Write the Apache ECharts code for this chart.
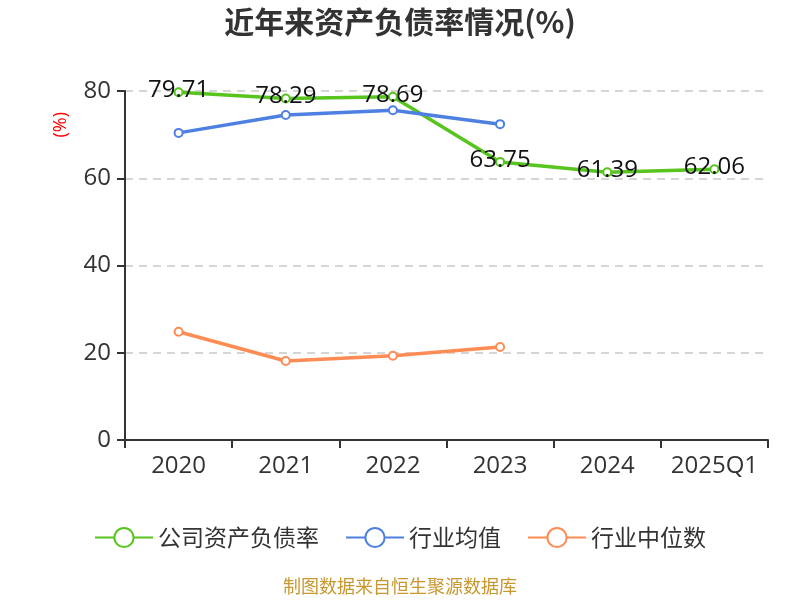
<!DOCTYPE html>
<html><head><meta charset="utf-8">
<script src="https://cdn.jsdelivr.net/npm/echarts@6/dist/echarts.min.js"></script>
<style>html,body{margin:0;padding:0;}#c{width:800px;height:600px;}</style>
</head><body><div id="c"></div>
<script>
const categories = ['2020','2021','2022','2023','2024','2025Q1'];
const companyRatio = [79.71, 78.29, 78.69, 63.75, 61.39, 62.06];
const industryAvg = [70.4, 74.5, 75.6, 72.4, null, null];
const industryMedian = [24.8, 18.1, 19.3, 21.3, null, null];
const yTicks = [0, 20, 40, 60, 80];

const font = '"Open Sans", "Noto Sans CJK SC", sans-serif';
const cjk = '"Noto Sans CJK SC", "Noto Sans", sans-serif';
const chart = echarts.init(document.getElementById('c'));
chart.setOption({
  animation: false,
  backgroundColor: '#fff',
  title: {
    text: '近年来资产负债率情况(%)', left: 'center', top: 2,
    textStyle: { fontSize: 30, fontWeight: 'bold', color: '#333', fontFamily: cjk }
  },
  grid: { left: 125, right: 32, top: 91, bottom: 160 },
  graphic: [
    { type: 'text', left: 52, top: 112, rotation: Math.PI / 2,
      style: { text: '(%)', fill: '#ff0000', fontSize: 18, fontFamily: font } },
    { type: 'text', left: 'center', top: 577,
      style: { text: '制图数据来自恒生聚源数据库', fill: '#c8972f', fontSize: 18, fontFamily: cjk } }
  ],
  legend: {
    bottom: 46, itemWidth: 58, itemHeight: 24, itemGap: 26,
    textStyle: { fontSize: 23, color: '#333', fontFamily: cjk },
    data: ['公司资产负债率', '行业均值', '行业中位数']
  },
  xAxis: {
    type: 'category', data: categories, boundaryGap: true,
    axisLine: { lineStyle: { color: '#333', width: 2 } },
    axisTick: { show: true, length: 8, interval: 0, lineStyle: { color: '#333', width: 2 } },
    axisLabel: { fontSize: 24, color: '#333', margin: 14, interval: 0, hideOverlap: false, fontFamily: font }
  },
  yAxis: {
    type: 'value', min: yTicks[0], max: yTicks[yTicks.length - 1], interval: 20,
    axisLine: { show: true, lineStyle: { color: '#333', width: 2 } },
    axisTick: { show: true, length: 8, lineStyle: { color: '#333', width: 2 } },
    axisLabel: { fontSize: 24, color: '#333', margin: 14, fontFamily: font },
    splitLine: { lineStyle: { type: [8, 6], color: '#c8c8c8', width: 1.5 } }
  },
  series: [
    { name: '公司资产负债率', type: 'line', data: companyRatio,
      symbol: 'emptyCircle', symbolSize: 8, color: '#58c41e',
      lineStyle: { width: 3.5 }, itemStyle: { borderWidth: 2 },
      label: { show: true, position: 'inside', offset: [0, -2], fontSize: 24, color: '#111', fontFamily: font,
        formatter: p => p.value.toFixed(2) } },
    { name: '行业均值', type: 'line', data: industryAvg,
      symbol: 'emptyCircle', symbolSize: 8, color: '#4e80e2',
      lineStyle: { width: 3.5 }, itemStyle: { borderWidth: 2 } },
    { name: '行业中位数', type: 'line', data: industryMedian,
      symbol: 'emptyCircle', symbolSize: 8, color: '#ff8c55',
      lineStyle: { width: 3.5 }, itemStyle: { borderWidth: 2 } }
  ]
});
</script></body></html>
